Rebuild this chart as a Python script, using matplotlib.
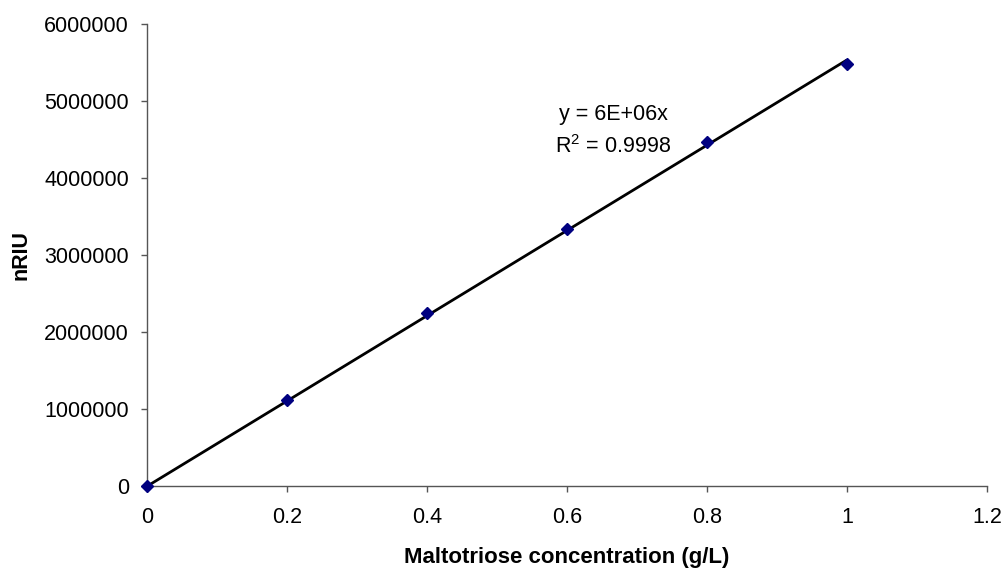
import numpy as np
import matplotlib
matplotlib.use("Agg")
import matplotlib.pyplot as plt
from matplotlib.ticker import FuncFormatter

# dati
conc = [0.0, 0.2, 0.4, 0.6, 0.8, 1.0]          # g/L
nriu = [0, 1120000, 2245000, 3340000, 4470000, 5480000]
x_ticks = [0, 0.2, 0.4, 0.6, 0.8, 1, 1.2]
y_ticks = [0, 1000000, 2000000, 3000000, 4000000, 5000000, 6000000]
eq_text = "y = 6E+06x"
r2_text = "$\\mathregular{R^2}$ = 0.9998"

plt.rcParams["font.family"] = ["Liberation Sans", "DejaVu Sans"]

fig = plt.figure(figsize=(10.08, 5.72), dpi=100)
ax = fig.add_axes([0.1458, 0.1498, 0.8333, 0.8077])

# linea di tendenza passante per l'origine (minimi quadrati)
x = np.array(conc)
y = np.array(nriu, dtype=float)
slope = np.sum(x * y) / np.sum(x * x)
ax.plot([x[0], x[-1]], [slope * x[0], slope * x[-1]], color="black",
        linewidth=2.0, zorder=3, solid_capstyle="butt")

ax.plot(conc, nriu, linestyle="none", marker="D", markersize=6.5,
        color="#000080", zorder=4, clip_on=False)

ax.set_xlim(0, 1.2)
ax.set_ylim(0, 6000000)
ax.set_xticks(x_ticks)
ax.set_yticks(y_ticks)
ax.xaxis.set_major_formatter(FuncFormatter(lambda v, p: f"{v:g}"))
ax.yaxis.set_major_formatter(FuncFormatter(lambda v, p: f"{int(v)}"))

for side in ["top", "right"]:
    ax.spines[side].set_visible(False)
for side in ["left", "bottom"]:
    ax.spines[side].set_color("#555555")
    ax.spines[side].set_linewidth(1.0)

ax.tick_params(axis="both", direction="out", length=4, width=1,
               color="#555555", labelsize=15.5)
ax.tick_params(axis="y", pad=9)
ax.tick_params(axis="x", pad=11)

ax.set_xlabel("Maltotriose concentration (g/L)", fontsize=16,
              fontweight="bold", va="center")
ax.xaxis.set_label_coords(0.5, -0.155)
ax.set_ylabel("nRIU", fontsize=15.5, fontweight="bold", va="center")
ax.yaxis.set_label_coords(-0.1494, 0.5)

ax.text(0.555, 0.804, eq_text, transform=ax.transAxes, ha="center",
        va="center", fontsize=15.5)
ax.text(0.555, 0.735, r2_text, transform=ax.transAxes, ha="center",
        va="center", fontsize=15.5)

fig.savefig("out.png", dpi=100)
